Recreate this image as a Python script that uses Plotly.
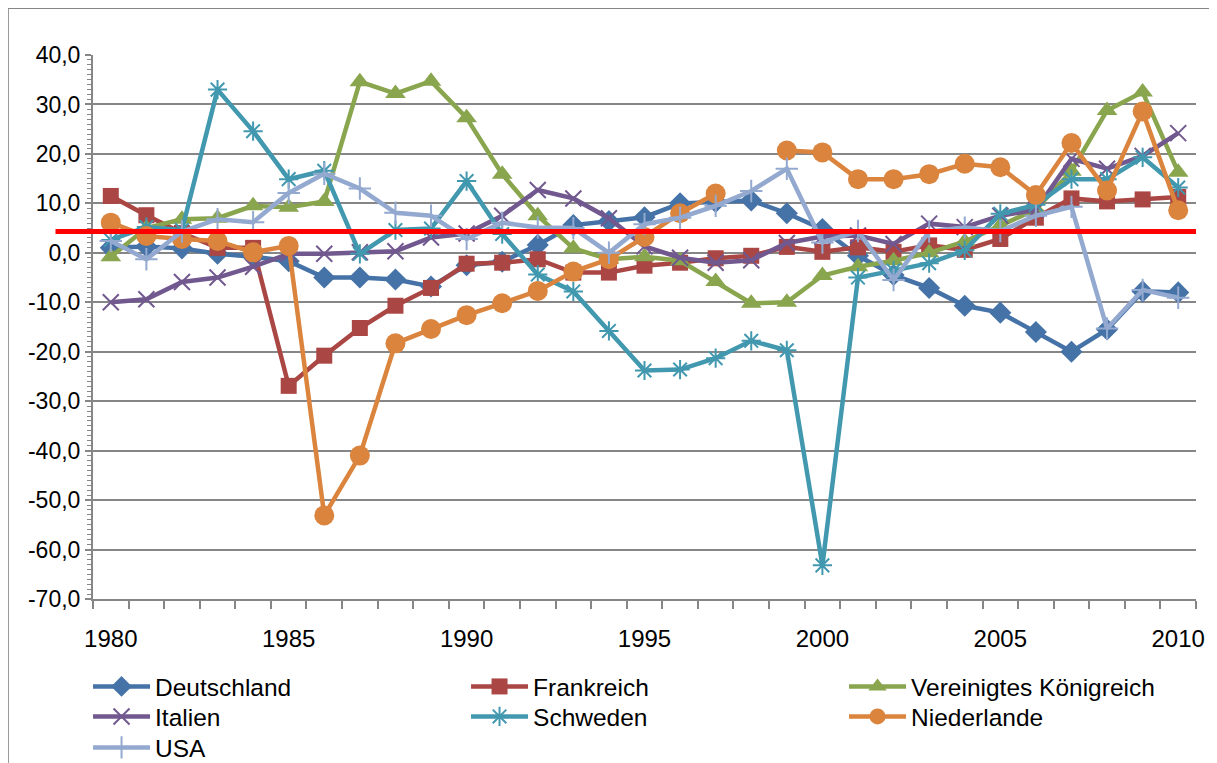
import plotly.graph_objects as go

years = list(range(1980, 2011))

deutschland = [1.0, 1.3, 0.9, -0.2, -0.8, -1.7, -5.0, -5.0, -5.4, -6.8, -2.5, -1.8, 1.6, 5.6, 6.4, 7.2,
               10.0, 10.3, 10.6, 8.0, 4.8, -0.6, -4.5, -7.1, -10.7, -12.1, -16.0, -20.0, -15.5, -7.8, -8.0]
frankreich = [11.5, 7.6, 4.0, 1.0, 1.0, -26.9, -20.8, -15.2, -10.7, -7.1, -2.2, -2.0, -1.3, -4.0, -4.0, -2.6,
              -2.0, -1.1, -0.6, 1.2, 0.2, 1.1, 0.2, 1.5, 0.6, 2.8, 7.1, 11.0, 10.4, 10.8, 11.3]
vk = [-0.8, 5.0, 6.8, 7.0, 9.5, 9.2, 10.4, 34.6, 32.2, 34.7, 27.3, 15.9, 7.5, 0.9, -1.3, -0.8,
      -1.6, -5.8, -10.2, -10.0, -4.6, -2.8, -1.6, 0.0, 2.3, 5.5, 8.8, 16.5, 28.8, 32.5, 16.3]
italien = [-10.0, -9.4, -5.9, -5.0, -2.8, -0.2, -0.2, 0.1, 0.3, 3.1, 3.9, 7.5, 12.7, 11.0, 7.0, 1.3,
           -1.0, -2.0, -1.5, 2.0, 3.3, 3.5, 1.8, 5.9, 5.2, 7.5, 8.7, 19.0, 17.0, 19.6, 24.2]
schweden = [2.6, 5.2, 4.6, 33.0, 24.6, 14.9, 16.6, -0.2, 4.6, 4.9, 14.5, 3.8, -4.4, -7.8, -15.8, -23.8,
            -23.6, -21.3, -17.8, -19.7, -63.2, -5.0, -3.6, -2.1, 0.5, 7.9, 9.7, 14.9, 14.9, 19.3, 13.2]
niederlande = [6.1, 3.4, 2.8, 2.4, 0.1, 1.4, -53.1, -41.0, -18.3, -15.4, -12.6, -10.2, -7.7, -3.8, -1.3, 3.2,
               8.0, 12.0, None, 20.7, 20.3, 14.9, 14.9, 15.9, 18.0, 17.3, 11.7, 22.2, 12.6, 28.6, 8.6]
usa = [2.4, -1.3, 4.3, 6.8, 6.2, 12.1, 16.0, 13.0, 8.1, 7.5, 2.8, 6.1, 5.1, 5.0, 0.0, 5.8,
       7.1, 9.5, 12.5, 17.0, 2.1, 4.4, -5.5, 4.3, 5.1, 4.4, 7.5, 9.3, -15.3, -7.5, -9.1]

reference_level = 4.3
x_labels = [y for y in years if y % 5 == 0]
y_ticks = list(range(-70, 41, 10))
y_ticktext = [f"{v:.1f}".replace(".", ",") for v in y_ticks]

series = [
    ("Deutschland", deutschland, "#4572A7", "diamond", 17, None, "legend"),
    ("Frankreich", frankreich, "#AA4643", "square", 16, None, "legend"),
    ("Vereinigtes Königreich", vk, "#89A54E", "triangle-up", 18, None, "legend"),
    ("Italien", italien, "#71588F", "x-thin-open", 16, 2, "legend2"),
    ("Schweden", schweden, "#4198AF", "asterisk-open", 16, 2, "legend2"),
    ("Niederlande", niederlande, "#DB843D", "circle", 20, None, "legend2"),
    ("USA", usa, "#93A9CF", "cross-thin-open", 16, 2, "legend3"),
]

fig = go.Figure()
for name, vals, color, sym, size, lw, leg in series:
    marker = dict(symbol=sym, size=size, color=color)
    if lw:
        marker["line"] = dict(color=color, width=lw)
    else:
        marker["line"] = dict(width=0)
    fig.add_trace(go.Scatter(x=years, y=vals, name=name, mode="lines+markers",
                             line=dict(color=color, width=4.5), marker=marker,
                             connectgaps=False, legend=leg))

fig.add_shape(type="line", xref="paper", yref="y", x0=-0.034, x1=1.0,
              y0=reference_level, y1=reference_level, line=dict(color="#FF0000", width=5))
fig.add_shape(type="rect", xref="paper", yref="paper", x0=-0.077, x1=1.0145, y0=-0.4, y1=1.086,
              line=dict(color="#868686", width=1.5), fillcolor="rgba(0,0,0,0)", layer="below")

font_family = "Liberation Sans"
leg_font = dict(family=font_family, size=24.5, color="#000000")


def legend_row(ypos):
    return dict(orientation="h", x=-0.0045, y=ypos, xanchor="left", yanchor="top",
                entrywidth=306, entrywidthmode="pixels", itemwidth=57,
                font=leg_font, bgcolor="rgba(0,0,0,0)", borderwidth=0)


# the page body adds an 8px offset, so the figure is 8px smaller on each axis
fig.update_layout(
    width=1209, height=755,
    margin=dict(l=85, r=21, t=47, b=164, autoexpand=False),
    paper_bgcolor="white", plot_bgcolor="white",
    font=dict(family=font_family, size=23, color="#000000"),
    showlegend=True,
    legend=legend_row(-0.1195),
    legend2=legend_row(-0.1747),
    legend3=legend_row(-0.2316),
    xaxis=dict(range=[years[0] - 0.5, years[-1] + 0.5], tickmode="array", tickvals=x_labels,
               ticktext=[str(v) for v in x_labels], ticks="", showgrid=False, zeroline=False,
               showline=True, linecolor="#868686", linewidth=2, ticklabelstandoff=17,
               tickfont=dict(family=font_family, size=24),
               minor=dict(tickmode="linear", tick0=years[0] - 0.5, dtick=1, ticks="outside",
                          ticklen=8, tickcolor="#868686", tickwidth=1.5, showgrid=False)),
    yaxis=dict(range=[-70, 40], tickmode="array", tickvals=y_ticks, ticktext=y_ticktext,
               showgrid=True, gridcolor="#868686", gridwidth=1.5, zeroline=False, showline=True,
               linecolor="#868686", linewidth=2, ticks="outside", ticklen=6,
               tickcolor="#868686", tickwidth=1.5,
               tickfont=dict(family=font_family, size=23),
               minor=dict(tickmode="linear", tick0=0, dtick=1, ticks="outside", ticklen=4,
                          tickcolor="#868686", tickwidth=1, showgrid=False)),
)

fig.write_html("out.html")
